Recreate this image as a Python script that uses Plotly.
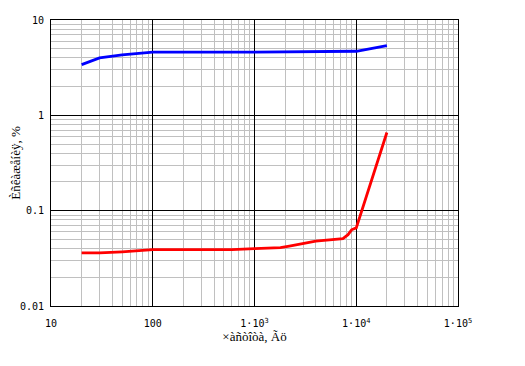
import plotly.graph_objects as go

freq_blue = [20, 30, 50, 100, 1000, 10000, 20000]
val_blue = [3.4, 4.0, 4.3, 4.6, 4.6, 4.7, 5.4]

freq_red = [20, 30, 50, 100, 300, 600, 1000, 1800, 2200, 4000, 7400, 8300, 9000, 10000, 20000]
val_red = [0.036, 0.036, 0.037, 0.039, 0.039, 0.039, 0.040, 0.041, 0.0425, 0.048, 0.051, 0.056, 0.063, 0.066, 0.66]

x_tickvals = [10, 100, 1000, 10000, 100000]
x_ticktext = ["10", "100", "1·10<sup>3</sup>", "1·10<sup>4</sup>", "1·10<sup>5</sup>"]
y_tickvals = [0.01, 0.1, 1, 10]
y_ticktext = ["0.01", "0.1", "1", "10"]

x_title = "×àñòîòà, Ãö"
y_title = "Èñêàæåíèÿ, %"

font_family = "DejaVu Sans Mono"
title_family = "Liberation Serif"

fig = go.Figure()
fig.add_trace(go.Scatter(x=freq_blue, y=val_blue, mode="lines",
                         line=dict(color="#0000ff", width=2.8), showlegend=False))
fig.add_trace(go.Scatter(x=freq_red, y=val_red, mode="lines",
                         line=dict(color="#ff0000", width=2.8), showlegend=False))

axis_common = dict(
    type="log", automargin=False,
    showline=True, linecolor="black", linewidth=1, mirror=True,
    showgrid=True, gridcolor="black", gridwidth=1,
    zeroline=False,
    tickfont=dict(family=font_family, size=10, color="black"),
    minor=dict(dtick="D1", showgrid=True, gridcolor="#c0c0c0", gridwidth=1, ticks=""),
)

fig.update_xaxes(**axis_common, range=[1, 5], tickvals=x_tickvals, ticktext=x_ticktext,
                 ticks="outside", ticklen=8, tickcolor="white",
                 title=dict(text=x_title, font=dict(family=title_family, size=13, color="black"), standoff=0))
fig.update_yaxes(**axis_common, range=[-2, 1], tickvals=y_tickvals, ticktext=y_ticktext,
                 ticks="outside", ticklen=4, tickcolor="white",
                 title=dict(text=y_title, font=dict(family=title_family, size=13, color="black"), standoff=2))

fig.update_layout(
    width=525, height=366,
    margin=dict(l=43, r=75, t=12, b=68, autoexpand=False),
    paper_bgcolor="white", plot_bgcolor="white",
)

fig.write_html("out.html")
